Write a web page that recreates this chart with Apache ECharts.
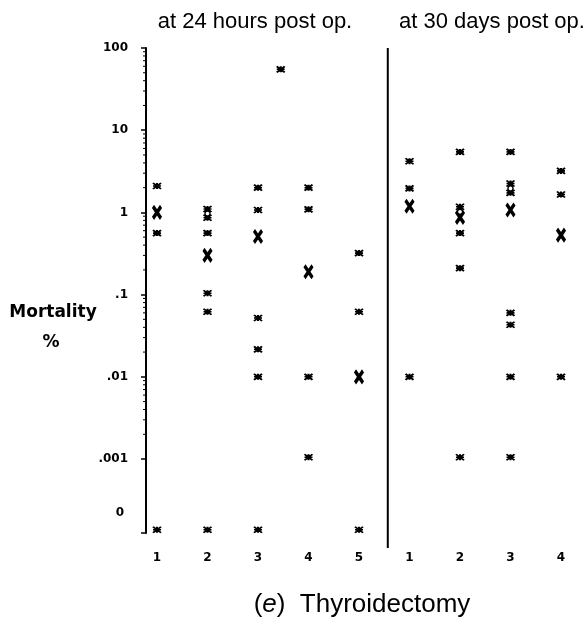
<!DOCTYPE html>
<html>
<head>
<meta charset="utf-8">
<script src="https://cdn.jsdelivr.net/npm/echarts@6/dist/echarts.min.js"></script>
<style>
html,body{margin:0;padding:0;background:#fff;}
#chart{width:586px;height:624px;}
</style>
</head>
<body>
<div id="chart"></div>
<script>
// ---- data ----
const columnLabels = ['1', '2', '3', '4', '5', '1', '2', '3', '4'];
const periodTitles = ['at 24 hours post op.', 'at 30 days post op.'];
const caption = 'Thyroidectomy';
// y tick labels by decade exponent
const yTickExponents = [-3, -2, -1, 0, 1, 2];
const yTickTexts = ['.001', '.01', '.1', '1', '10', '100'];
const zeroText = '0';
// log minor-tick multipliers drawn inside each labelled decade
const minorMultipliers = [2, 3, 4, 5, 6, 7, 8, 9];

// individual reported mortality (%) per series, 24 hours post op (groups 1..5)
const obs24h = [
  [2.1, 0.56],
  [1.1, 0.86, 0.56, 0.104, 0.062],
  [2.0, 1.07, 0.052, 0.0216, 0.01],
  [2.0, 1.09, 0.01, 0.00105],
  [0.32, 0.062]
];
// 30 days post op (groups 1..4)
const obs30d = [
  [4.2, 1.96, 0.01],
  [5.45, 1.17, 0.56, 0.21, 0.00105],
  [5.45, 2.25, 1.73, 0.06, 0.043, 0.01, 0.00105],
  [3.2, 1.65, 0.01]
];
// large X markers (group medians)
const median24h = [1.0, 0.30, 0.51, 0.19, 0.01];
const median30d = [1.19, 0.87, 1.07, 0.53];
// open circle markers
const circle24h = [null, 0.97, null, null, null];
const circle30d = [null, 1.02, 1.96, null];
// groups with zero-mortality reports
const zero24h = [true, true, true, false, true];
const zero30d = [false, false, false, false];
// off-column point (position, value)
const extraPoints = [[3.45, 55]];
// axis extents and placeholder position for the "0" row
const yMin = 0.000126;
const yMax = 100;
const zeroRowValue = 0.000138;
const dividerPos = 5.57;

// ---- layout constants ----
const axisOffset = 11;
const minorLen = 3;

// ---- build series data ----
const nFirst = obs24h.length;
const smallPts = [], bigPts = [], circlePts = [];
obs24h.forEach((arr, g) => arr.forEach(v => smallPts.push([g + 1, v])));
obs30d.forEach((arr, g) => arr.forEach(v => smallPts.push([g + 1 + nFirst, v])));
extraPoints.forEach(p => smallPts.push(p));
zero24h.forEach((z, g) => { if (z) smallPts.push([g + 1, zeroRowValue]); });
zero30d.forEach((z, g) => { if (z) smallPts.push([g + 1 + nFirst, zeroRowValue]); });
median24h.forEach((v, g) => bigPts.push([g + 1, v]));
median30d.forEach((v, g) => bigPts.push([g + 1 + nFirst, v]));
circle24h.forEach((v, g) => { if (v != null) circlePts.push([g + 1, v]); });
circle30d.forEach((v, g) => { if (v != null) circlePts.push([g + 1 + nFirst, v]); });
const minorTickPts = [];
yTickExponents.slice(0, -1).forEach(e => minorMultipliers.forEach(m => minorTickPts.push([1, m * Math.pow(10, e)])));

const chart = echarts.init(document.getElementById('chart'), null, {renderer: 'canvas'});
const boldFont = 'DejaVu Sans';
const option = {
  backgroundColor: '#fff',
  animation: false,
  grid: [
    {left: 157, right: 25, top: 48, bottom: 91},
    {left: 157, right: 25, top: 48, bottom: 76}
  ],
  xAxis: [
    {
      gridIndex: 0, type: 'value', min: 1, max: columnLabels.length, interval: 1,
      axisLine: {show: false}, axisTick: {show: false}, splitLine: {show: false},
      axisLabel: {
        margin: 19, fontFamily: boldFont, fontWeight: 'bold', fontSize: 12, color: '#000',
        formatter: v => columnLabels[Math.round(v) - 1] || ''
      }
    },
    {gridIndex: 1, type: 'value', min: 1, max: columnLabels.length, show: false}
  ],
  yAxis: [
    {
      gridIndex: 0, type: 'log', min: yMin, max: yMax, offset: axisOffset,
      axisLine: {show: true, lineStyle: {color: '#000', width: 2}},
      axisTick: {show: true, inside: false, length: 5, lineStyle: {color: '#000', width: 1.5}},
      minorTick: {show: false},
      splitLine: {show: false},
      axisLabel: {
        showMinLabel: true, showMaxLabel: true, margin: 18,
        fontFamily: boldFont, fontWeight: 'bold', fontSize: 12, color: '#000',
        formatter: v => {
          const e = Math.log10(v);
          const r = Math.round(e);
          if (Math.abs(e - r) > 0.01) return '{z|' + zeroText + '}';
          const i = yTickExponents.indexOf(r);
          return i >= 0 ? yTickTexts[i] : '';
        },
        rich: {
          z: {fontFamily: boldFont, fontWeight: 'bold', fontSize: 12, color: '#000', padding: [0, 4, 40, 0]}
        }
      }
    },
    {gridIndex: 1, type: 'value', min: 0, max: 1, show: false}
  ],
  graphic: [
    {type: 'text', x: 255, y: 22, style: {text: periodTitles[0], font: '22px "Liberation Sans"', fill: '#000', textAlign: 'center', textVerticalAlign: 'middle'}},
    {type: 'text', x: 492, y: 22, style: {text: periodTitles[1], font: '22px "Liberation Sans"', fill: '#000', textAlign: 'center', textVerticalAlign: 'middle'}},
    {type: 'text', x: 53, y: 313, style: {text: 'Mortality', font: 'bold 17px "DejaVu Sans"', fill: '#000', textAlign: 'center', textVerticalAlign: 'middle'}},
    {type: 'text', x: 51, y: 343, style: {text: '%', font: 'bold 17px "DejaVu Sans"', fill: '#000', textAlign: 'center', textVerticalAlign: 'middle'}},
    {type: 'text', x: 362, y: 605, style: {
      text: '({i|e})  ' + caption, font: '26px "Liberation Sans"', fill: '#000',
      textAlign: 'center', textVerticalAlign: 'middle',
      rich: {i: {font: 'italic 26px "Liberation Sans"', fill: '#000'}}
    }}
  ],
  series: [
    {
      type: 'line', xAxisIndex: 1, yAxisIndex: 1, symbol: 'none', silent: true,
      lineStyle: {color: '#000', width: 2},
      data: [[dividerPos, 0], [dividerPos, 1]]
    },
    {
      type: 'custom', xAxisIndex: 0, yAxisIndex: 0, silent: true, clip: false,
      renderItem: (params, api) => {
        const p = api.coord([api.value(0), api.value(1)]);
        const x = p[0] - axisOffset;
        return {type: 'line', shape: {x1: x - minorLen, y1: p[1], x2: x, y2: p[1]}, style: {stroke: '#000', lineWidth: 1}};
      },
      data: minorTickPts
    },
    {
      type: 'scatter', xAxisIndex: 0, yAxisIndex: 0,
      symbol: 'path://M0,0L10,8M10,0L0,8M0,4L10,4M5,0L5,8', symbolSize: [8, 6],
      itemStyle: {color: 'none', borderColor: '#000', borderWidth: 1.8, opacity: 1},
      data: smallPts
    },
    {
      type: 'scatter', xAxisIndex: 0, yAxisIndex: 0,
      symbol: 'path://M0,0L8,12M8,0L0,12', symbolSize: [8, 12],
      itemStyle: {color: 'none', borderColor: '#000', borderWidth: 3.6, opacity: 1},
      data: bigPts
    },
    {
      type: 'scatter', xAxisIndex: 0, yAxisIndex: 0,
      symbol: 'circle', symbolSize: 5,
      itemStyle: {color: '#fff', borderColor: '#000', borderWidth: 1.4, opacity: 1},
      data: circlePts
    }
  ]
};
chart.setOption(option);
</script>
</body>
</html>
